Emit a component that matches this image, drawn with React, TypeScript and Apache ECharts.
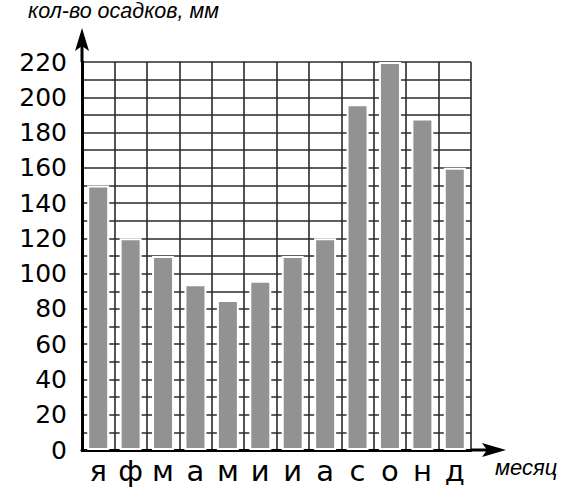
import React, { useEffect, useRef } from "react";
import * as echarts from "echarts";

const months = ["я", "ф", "м", "а", "м", "и", "и", "а", "с", "о", "н", "д"];
const rainfall = [150, 120, 110, 94, 85, 96, 110, 120, 196, 220, 188, 160];
const yMin = 0;
const yMax = 220;
const yStep = 10;
const yLabelStep = 20;
const yTitle = "кол-во осадков, мм";
const xTitle = "месяц";

const FONT = '"Liberation Sans", Arial, sans-serif';
const LABEL_FONT = '"DejaVu Sans", "Liberation Sans", sans-serif';

export default function App() {
  const ref = useRef<HTMLDivElement>(null);

  useEffect(() => {
    document.body.style.margin = "0";
    if (!ref.current) return;
    const chart = echarts.init(ref.current, null, { renderer: "svg" });
    const gridLeft = 82;
    const gridTop = 62;
    const gridRight = 102;
    const gridBottom = 38;
    const W = 573;
    const H = 488;
    const axisX = gridLeft;
    const axisY = H - gridBottom;
    const rightX = W - gridRight;

    chart.setOption({
      animation: false,
      backgroundColor: "#ffffff",
      grid: {
        left: gridLeft,
        top: gridTop,
        right: gridRight,
        bottom: gridBottom,
        containLabel: false,
      },
      xAxis: {
        type: "category",
        data: months,
        boundaryGap: true,
        axisLine: { show: true, lineStyle: { color: "#000", width: 3 } },
        axisTick: { show: false },
        axisLabel: {
          color: "#000",
          fontFamily: LABEL_FONT,
          fontSize: 29,
          margin: 6,
          interval: 0,
        },
        splitLine: {
          show: true,
          interval: 0,
          lineStyle: { color: "#2a2a2a", width: 1.6 },
        },
      },
      yAxis: {
        type: "value",
        min: yMin,
        max: yMax,
        interval: yStep,
        axisLine: { show: true, lineStyle: { color: "#000", width: 3 } },
        axisTick: { show: false },
        axisLabel: {
          color: "#000",
          fontFamily: LABEL_FONT,
          fontSize: 25,
          margin: 15,
          formatter: (v: number) => (v % yLabelStep === 0 ? String(v) : ""),
        },
        splitLine: {
          show: true,
          lineStyle: { color: "#2a2a2a", width: 1.6 },
        },
      },
      series: [
        {
          type: "bar",
          data: rainfall,
          barWidth: 22,
          itemStyle: {
            color: "#929292",
            borderColor: "#ffffff",
            borderWidth: 2,
          },
          z: 3,
        },
      ],
      graphic: [
        {
          type: "line",
          shape: { x1: axisX, y1: gridTop, x2: axisX, y2: 40 },
          style: { stroke: "#000", lineWidth: 3 },
          z: 10,
        },
        {
          type: "polygon",
          shape: {
            points: [
              [axisX, 28],
              [axisX + 7, 51],
              [axisX, 46],
              [axisX - 7, 51],
            ],
          },
          style: { fill: "#000" },
          z: 10,
        },
        {
          type: "line",
          shape: { x1: rightX, y1: axisY, x2: 492, y2: axisY },
          style: { stroke: "#000", lineWidth: 3 },
          z: 10,
        },
        {
          type: "polygon",
          shape: {
            points: [
              [506, axisY],
              [482, axisY - 7],
              [487, axisY],
              [482, axisY + 7],
            ],
          },
          style: { fill: "#000" },
          z: 10,
        },
        {
          type: "text",
          style: {
            x: 28,
            y: 11,
            text: yTitle,
            fontFamily: FONT,
            fontSize: 21.5,
            fontStyle: "italic",
            fill: "#000",
            verticalAlign: "middle",
            align: "left",
          },
          z: 10,
        },
        {
          type: "text",
          style: {
            x: 495,
            y: 467,
            text: xTitle,
            fontFamily: FONT,
            fontSize: 22,
            fontStyle: "italic",
            fill: "#000",
            verticalAlign: "middle",
            align: "left",
          },
          z: 10,
        },
      ],
    });

    return () => {
      chart.dispose();
    };
  }, []);

  return (
    <div
      ref={ref}
      style={{ position: "absolute", left: 0, top: 0, width: 573, height: 488 }}
    />
  );
}
